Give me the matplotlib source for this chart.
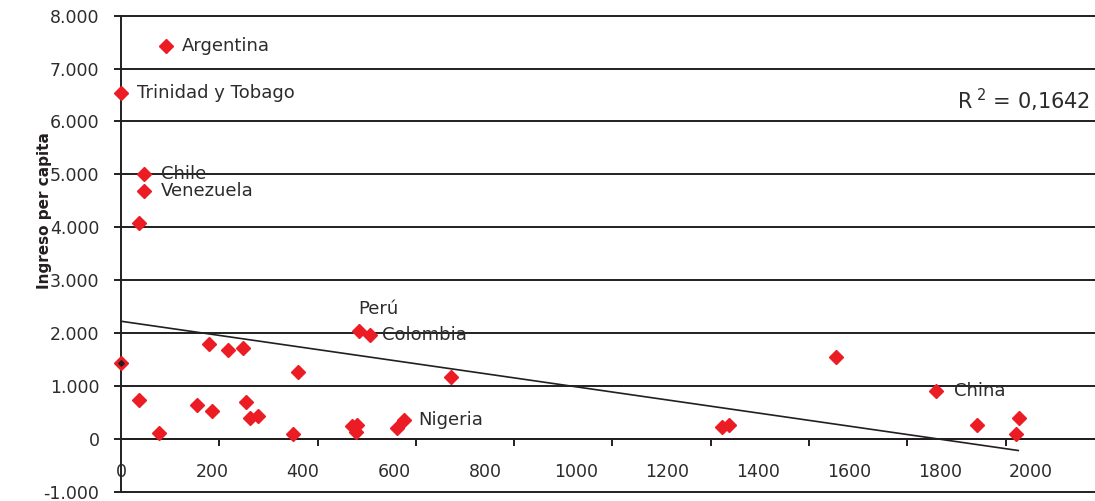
import matplotlib
matplotlib.use("Agg")
import matplotlib.pyplot as plt
import numpy as np

# ---- data ----
x_vals = [0, 98, 51, 51, 40, 0, 40, 84, 166, 193, 201, 236, 268, 275, 284, 300,
          378, 389, 524, 547, 725, 508, 519, 516, 607, 622, 1321, 1336, 1571,
          1791, 1882, 1974, 1968]
y_vals = [6530, 7420, 5015, 4680, 4076, 1430, 730, 119, 636, 1800, 519, 1682,
          1716, 705, 397, 427, 94, 1256, 2047, 1966, 1165, 233, 270, 138, 197,
          349, 214, 252, 1556, 913, 270, 397, 94]
point_labels = ["Trinidad y Tobago", "Argentina", "Chile", "Venezuela", "", "", "",
                "", "", "", "", "", "", "", "", "", "", "", "Perú", "Colombia", "",
                "", "", "", "", "Nigeria", "", "", "", "China", "", "", ""]
trend_x = [0, 1972]
trend_y = [2223, -221]
r2_text = "0,1642"
y_ticks = [-1000, 0, 1000, 2000, 3000, 4000, 5000, 6000, 7000, 8000]
y_ticklabels = ["-1.000", "0", "1.000", "2.000", "3.000", "4.000", "5.000",
                "6.000", "7.000", "8.000"]
x_ticks = [0, 200, 400, 600, 800, 1000, 1200, 1400, 1600, 1800, 2000]
x_ticklabels = [str(v) for v in x_ticks]
y_title = "Ingreso per capita"

# ---- style ----
INK = "#231F20"
TXT = "#2E2B2C"
RED = "#EC1C24"
W, H = 1095, 501
fig = plt.figure(figsize=(W / 100, H / 100), dpi=100)
ax = fig.add_axes([121 / W, (H - 491.7) / H, (W - 121) / W, (491.7 - 15.7) / H])
ax.set_xlim(0, (W - 121) / 0.455)
ax.set_ylim(-1000, 8000)

for sp in ("top", "right"):
    ax.spines[sp].set_visible(False)
ax.spines["left"].set_color(INK)
ax.spines["left"].set_linewidth(1.4)
ax.spines["bottom"].set_position(("data", 0))
ax.spines["bottom"].set_color(INK)
ax.spines["bottom"].set_linewidth(1.4)

for yv in y_ticks:
    ax.axhline(yv, color=INK, lw=1.4, clip_on=False, zorder=1)

ax.set_yticks(y_ticks, y_ticklabels)
ax.tick_params(axis="y", direction="out", length=5, width=1.4, color=INK,
               pad=10.5, labelsize=12.5, labelcolor=TXT)

ax.set_xticks(x_ticks, x_ticklabels)
ax.tick_params(axis="x", which="major", length=0, pad=17.5, labelsize=12.5,
               labelcolor=TXT)
ax.set_xticks(np.arange(0, 2000, 216), minor=True)
ax.tick_params(axis="x", which="minor", direction="out", length=5, width=1.4,
               color=INK)

# trend line
ax.plot(trend_x, trend_y, color=INK, lw=1.2, zorder=2, clip_on=False)

# points
ax.plot(x_vals, y_vals, linestyle="none", marker="D", ms=7.2, color=RED,
        mec=RED, zorder=3, clip_on=False)
ax.plot([x_vals[5]], [y_vals[5]], linestyle="none", marker="D", ms=2.8,
        color=INK, zorder=4, clip_on=False)

offsets = {"Perú": ((-1, 9), "left", "bottom"),
           "Colombia": ((8.5, 0), "left", "center"),
           "Nigeria": ((10.5, 0), "left", "center"),
           "China": ((13, 0), "left", "center")}
for xv, yv, lab in zip(x_vals, y_vals, point_labels):
    if not lab:
        continue
    off, ha, va = offsets.get(lab, ((11.8, 0), "left", "center"))
    ax.annotate(lab, (xv, yv), xytext=off, textcoords="offset points",
                ha=ha, va=va, fontsize=13, color=TXT)

fig.text(1090 / W, (H - 109) / H, r"R$^{\ 2}$ = " + r2_text, ha="right",
         va="baseline", fontsize=15, color=TXT)
fig.text(45 / W, (H - 211) / H, y_title, rotation=90, ha="center", va="center",
         fontsize=11, fontweight="bold", color=INK)

fig.savefig("out.png", dpi=100)
